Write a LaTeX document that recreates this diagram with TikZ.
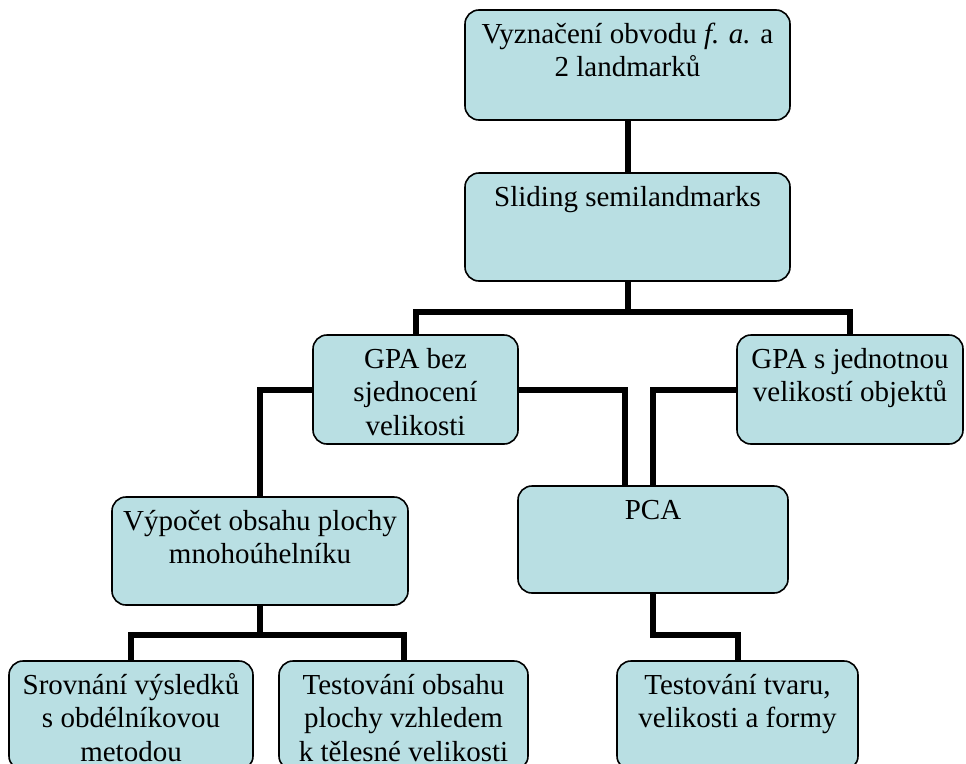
\documentclass[tikz,border=0pt]{standalone}
\usepackage{fontspec}
\setmainfont{Liberation Serif}
\definecolor{boxfill}{RGB}{185,223,227}
\newcommand{\bxt}[3]{\parbox[t][#2pt][t]{#1pt}{\centering\fontsize{29}{33.5}\selectfont\rule{0pt}{33pt}#3}}
\begin{document}
\begin{tikzpicture}[x=1pt,y=-1pt,
  boxnode/.style={draw=black, line width=1.6pt, fill=boxfill, rounded corners=14pt, inner sep=0pt, outer sep=0pt, anchor=north west},
  conn/.style={draw=black, line width=6pt}]
\useasboundingbox (0,0) rectangle (966,763);
\clip (0,0) rectangle (966,763);
\node[boxnode] (top) at (465,10) {\bxt{325}{110}{Vyznačení obvodu \textit{f. a.} a\\2 landmarků}};
\node[boxnode] (slide) at (465,173) {\bxt{325}{108}{Sliding semilandmarks}};
\node[boxnode] (gpa1) at (313,335) {\bxt{205}{109}{GPA bez\\sjednocení\\velikosti}};
\node[boxnode] (gpa2) at (737,335) {\bxt{226}{109}{GPA s jednotnou\\velikostí objektů}};
\node[boxnode] (vyp) at (112,497) {\bxt{296}{108}{Výpočet obsahu plochy\\mnohoúhelníku}};
\node[boxnode] (pca) at (518,486) {\bxt{270}{107}{PCA}};
\node[boxnode] (sr) at (9,661) {\bxt{244}{109}{Srovnání výsledků\\s obdélníkovou\\metodou}};
\node[boxnode] (tob) at (279,661) {\bxt{249}{109}{Testování obsahu\\plochy vzhledem\\k tělesné velikosti}};
\node[boxnode] (ttv) at (617,661) {\bxt{241}{109}{Testování tvaru,\\velikosti a formy}};
\coordinate (bus1) at (627.5,312);
\coordinate (bus2) at (260,635);
\coordinate (bus3) at (700,635);
\coordinate (pcain) at (625,486);
\draw[conn] (top.south) -- (slide.north);
\draw[conn] (slide.south) -- (bus1);
\draw[conn] (gpa1.north) |- (bus1) -| (gpa2.north);
\draw[conn] (gpa1.west) -| (vyp.north);
\draw[conn] (gpa1.east) -| (pcain);
\draw[conn] (gpa2.west) -| (pca.north);
\draw[conn] (vyp.south) -- (bus2);
\draw[conn] (sr.north) |- (bus2) -| (tob.north);
\draw[conn] (pca.south) |- (bus3) -| (ttv.north);
\end{tikzpicture}
\end{document}
